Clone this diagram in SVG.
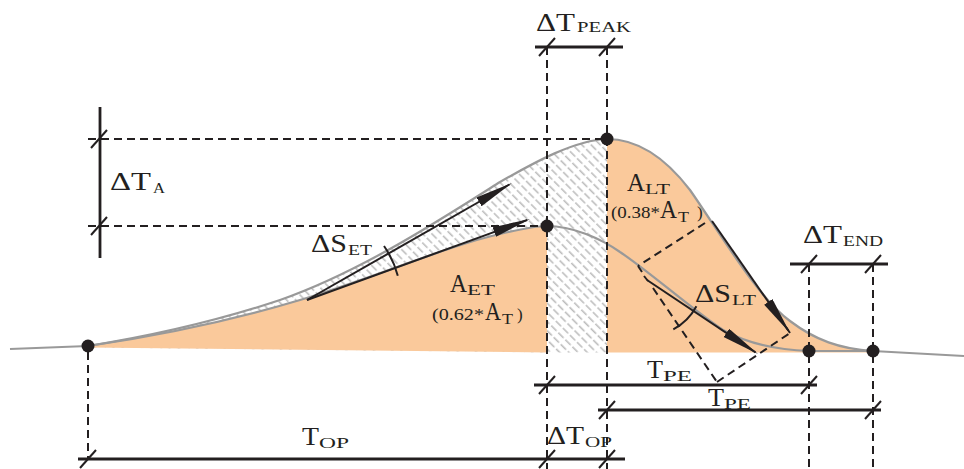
<svg xmlns="http://www.w3.org/2000/svg" width="964" height="469" viewBox="0 0 964 469">
<style>
.t{font-family:"Liberation Serif","Times New Roman",serif;fill:#231f20}
.m{font-size:25px}
.s{font-size:15px}
.p{font-size:17px}
.dash{fill:none;stroke:#231f20;stroke-width:2;stroke-dasharray:8 5}
.dim{fill:none;stroke:#231f20;stroke-width:2.8}
.tk{fill:none;stroke:#231f20;stroke-width:2}
.cur{fill:none;stroke:#999;stroke-width:2.2}
.arr{fill:none;stroke:#231f20;stroke-width:2}
.dot{fill:#231f20}
</style>
<defs>
<pattern id="hatch" patternUnits="userSpaceOnUse" width="10" height="6.5" patternTransform="rotate(45)">
<line x1="0" y1="3" x2="7.5" y2="3" stroke="#bdbdbd" stroke-width="1.6"/>
</pattern>
<marker id="ah" markerUnits="userSpaceOnUse" markerWidth="40" markerHeight="12" refX="35" refY="5" orient="auto">
<path d="M0,0 L38,5 L0,10 Z" fill="#231f20"/>
</marker>
<path id="tick" d="M-8,9 L8,-9"/>
</defs>

<g id="areas">
<path d="M88,346 C150,336 220,320 280,300 C360,272 440,220 500,182 C535,162 575,140 607,139 L607,352.5 L547,352.5 L88,347.5 Z" fill="#fff"/>
<path d="M88,346 C150,336 220,320 280,300 C360,272 440,220 500,182 C535,162 575,140 607,139 L607,352.5 L547,352.5 L88,347.5 Z" fill="url(#hatch)"/>
<path d="M88,346 C170,334 240,318 300,300 C370,279 450,245 500,234 C525,228 537,226 547,226 L547,352.5 L88,347.5 Z" fill="#fac99b"/>
<path d="M607,139 C637,139 664,156 690,190 C722,236 758,298 790,321 C815,340 840,349 873,351 L873,352.5 L607,352.5 Z" fill="#fac99b"/>
</g>

<g id="curves">
<path class="cur" d="M10,349 L88,346"/>
<path class="cur" d="M88,346 C150,336 220,320 280,300 C360,272 440,220 500,182 C535,162 575,140 607,139 C637,139 664,156 690,190 C722,236 758,298 790,321 C815,340 840,349 873,351 L964,356"/>
<path class="cur" d="M88,346 C170,334 240,318 300,300 C370,279 450,245 500,234 C525,228 537,226 547,226 C572,226 600,238 620,252 C650,272 690,308 723,330 C750,345 780,350 809,351 L873,351"/>
</g>

<g id="connectors">
<line class="dash" x1="88" y1="139" x2="607" y2="139"/>
<line class="dash" x1="88" y1="226" x2="547" y2="226"/>
<line class="dash" x1="88" y1="352" x2="88" y2="459"/>
<line class="dash" x1="547" y1="47" x2="547" y2="469"/>
<line class="dash" x1="607" y1="47" x2="607" y2="469"/>
<line class="dash" x1="809" y1="264" x2="809" y2="469"/>
<line class="dash" x1="873" y1="264" x2="873" y2="469"/>
<line class="dash" x1="705" y1="223" x2="638" y2="266"/>
<line class="dash" x1="653" y1="288" x2="717" y2="382"/>
<line class="dash" x1="717" y1="382" x2="790" y2="333"/>
<path class="tk" d="M638,266 L642,272 M644,276 L648,281 M790,333 L786,327"/>

<line class="dim" x1="535" y1="47" x2="623" y2="47"/>
<line class="dim" x1="100" y1="107" x2="100" y2="258"/>
<line class="dim" x1="790" y1="264" x2="888" y2="264"/>
<line class="dim" x1="534" y1="385" x2="817" y2="385"/>
<line class="dim" x1="598" y1="410" x2="881" y2="410"/>
<line class="dim" x1="78" y1="459" x2="625" y2="459"/>
<g class="tk">
<use href="#tick" x="547" y="47"/>
<use href="#tick" x="607" y="47"/>
<use href="#tick" x="99" y="139"/>
<use href="#tick" x="99" y="226"/>
<use href="#tick" x="809" y="264"/>
<use href="#tick" x="873" y="264"/>
<use href="#tick" x="547" y="385"/>
<use href="#tick" x="809" y="385"/>
<use href="#tick" x="607" y="410"/>
<use href="#tick" x="873" y="410"/>
<use href="#tick" x="88" y="459"/>
<use href="#tick" x="547" y="459"/>
<use href="#tick" x="607" y="459"/>
</g>

<line class="arr" x1="307" y1="300" x2="509.4" y2="184.5" marker-end="url(#ah)"/>
<line class="arr" x1="307" y1="300" x2="527.2" y2="220" marker-end="url(#ah)"/>
<line class="arr" x1="712" y1="221" x2="788.3" y2="330.5" marker-end="url(#ah)"/>
<line class="arr" x1="647" y1="280" x2="755.5" y2="352.3" marker-end="url(#ah)"/>
<path class="arr" d="M384,246 A94,94 0 0,1 397.8,275.7"/>
<path class="arr" d="M673.3,329.4 A56,56 0 0,0 696.4,306.3"/>
</g>

<g id="points">
<circle class="dot" cx="88" cy="346" r="6.5"/>
<circle class="dot" cx="547" cy="226" r="6.5"/>
<circle class="dot" cx="607" cy="139" r="6.5"/>
<circle class="dot" cx="809" cy="351" r="6.5"/>
<circle class="dot" cx="873" cy="351" r="6.5"/>
</g>

<g id="labels">
<text class="t m" x="536" y="31" textLength="39" lengthAdjust="spacingAndGlyphs">ΔT</text>
<text class="t s" x="577" y="32" textLength="54" lengthAdjust="spacingAndGlyphs">PEAK</text>
<text class="t m" x="110" y="190" textLength="41" lengthAdjust="spacingAndGlyphs">ΔT</text>
<text class="t s" x="153" y="193" textLength="12" lengthAdjust="spacingAndGlyphs">A</text>
<text class="t m" x="311" y="252" textLength="36" lengthAdjust="spacingAndGlyphs">ΔS</text>
<text class="t s" x="348" y="255" textLength="24" lengthAdjust="spacingAndGlyphs">ET</text>
<text class="t m" x="450" y="292" textLength="17" lengthAdjust="spacingAndGlyphs">A</text>
<text class="t s" x="467" y="295" textLength="28" lengthAdjust="spacingAndGlyphs">ET</text>
<text class="t p" x="432" y="320" textLength="52" lengthAdjust="spacingAndGlyphs">(0.62*</text>
<text class="t m" x="485" y="320" textLength="16" lengthAdjust="spacingAndGlyphs">A</text>
<text class="t s" x="502" y="324" textLength="11" lengthAdjust="spacingAndGlyphs">T</text>
<text class="t p" x="517" y="320">)</text>
<text class="t m" x="627" y="191" textLength="18" lengthAdjust="spacingAndGlyphs">A</text>
<text class="t s" x="645" y="194" textLength="25" lengthAdjust="spacingAndGlyphs">LT</text>
<text class="t p" x="611" y="218" textLength="49" lengthAdjust="spacingAndGlyphs">(0.38*</text>
<text class="t m" x="660" y="218" textLength="17" lengthAdjust="spacingAndGlyphs">A</text>
<text class="t s" x="678" y="222" textLength="11" lengthAdjust="spacingAndGlyphs">T</text>
<text class="t p" x="697" y="218">)</text>
<text class="t m" x="695" y="302" textLength="36" lengthAdjust="spacingAndGlyphs">ΔS</text>
<text class="t s" x="732" y="305" textLength="24" lengthAdjust="spacingAndGlyphs">LT</text>
<text class="t m" x="803" y="243" textLength="39" lengthAdjust="spacingAndGlyphs">ΔT</text>
<text class="t s" x="843" y="246" textLength="40" lengthAdjust="spacingAndGlyphs">END</text>
<text class="t m" x="647" y="378" textLength="16" lengthAdjust="spacingAndGlyphs">T</text>
<text class="t s" x="663" y="381" textLength="29" lengthAdjust="spacingAndGlyphs">PE</text>
<text class="t m" x="708" y="406" textLength="16" lengthAdjust="spacingAndGlyphs">T</text>
<text class="t s" x="724" y="409" textLength="27" lengthAdjust="spacingAndGlyphs">PE</text>
<text class="t m" x="302" y="445" textLength="17" lengthAdjust="spacingAndGlyphs">T</text>
<text class="t s" x="319" y="448" textLength="30" lengthAdjust="spacingAndGlyphs">OP</text>
<text class="t m" x="547" y="444" textLength="37" lengthAdjust="spacingAndGlyphs">ΔT</text>
<text class="t s" x="585" y="447" textLength="27" lengthAdjust="spacingAndGlyphs">OP</text>
</g>
</svg>
